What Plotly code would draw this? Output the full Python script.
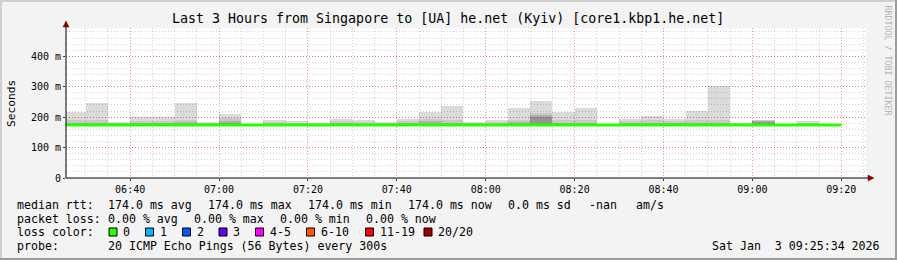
import pandas as pd
import plotly.graph_objects as go

# ---------------- data ----------------
bar_starts = pd.date_range("2026-01-03 06:25:00", periods=35, freq="5min")
bar_seconds = 300
range_start = "2026-01-03 06:25:34"
range_end = "2026-01-03 09:25:34"

median_ms = [174.0, 174.0, 174.0, 174.0, 174.0, 174.0, 174.0, 174.0, 174.0, 174.0,
             174.0, 174.0, 174.0, 174.0, 174.0, 174.0, 174.0, 174.0, 174.0, 174.0,
             174.0, 174.0, 174.0, 174.0, 174.0, 174.0, 174.0, 174.0, 174.0, 174.0,
             174.0, 174.0, 174.0, 174.0, 174.0]
smoke_min = [172, 172, 172, 172, 172, 172, 172, 172, 172, 172,
             172, 172, 172, 172, 172, 172, 172, 172, 172, 172,
             172, 172, 172, 172, 172, 172, 172, 172, 172, 172,
             172, 172, 172, 172, 172]
smoke_max = [218, 247, 185, 201, 201, 247, 185, 211, 177, 191,
             188, 182, 195, 191, 184, 194, 218, 238, 185, 192,
             231, 254, 218, 231, 175, 195, 205, 194, 220, 302,
             182, 190, 175, 188, 175]
smoke_mid = [190, 190, 180, 188, 186, 192, 180, 198, 176, 184,
             182, 179, 186, 184, 180, 186, 195, 192, 180, 183,
             190, 215, 190, 190, 175, 186, 190, 186, 190, 190,
             179, 189, 175, 182, 175]
smoke_inner = [182, 182, 177, 181, 180, 184, 177, 188, 175, 179,
               178, 177, 180, 179, 177, 181, 186, 182, 177, 179,
               184, 207, 182, 182, 174, 180, 181, 180, 182, 182,
               177, 188, 174, 178, 174]
smoke_core = [176, 176, 175, 176, 176, 177, 175, 181, 174, 176,
              175, 175, 176, 176, 175, 177, 179, 176, 175, 176,
              178, 201, 177, 177, 174, 176, 176, 176, 176, 176,
              175, 185, 174, 175, 174]

y_tickvals = [0, 100, 200, 300, 400]
y_ticktext = ["0", "100 m", "200 m", "300 m", "400 m"]
y_max = 493

title_text = "Last 3 Hours from Singapore to [UA] he.net (Kyiv) [core1.kbp1.he.net]"
rtt_stats = ["174.0 ms avg", "174.0 ms max", "174.0 ms min", "174.0 ms now",
             "0.0 ms sd", "-nan", "am/s"]
loss_stats = ["0.00 % avg", "0.00 % max", "0.00 % min", "0.00 % now"]
loss_labels = ["0", "1", "2", "3", "4-5", "6-10", "11-19", "20/20"]
loss_colors = ["#26ff00", "#00b8ff", "#0059ff", "#5e00ff", "#ff00ff",
               "#ff5500", "#ff0000", "#a10000"]
probe_text = "20 ICMP Echo Pings (56 Bytes) every 300s"
stamp_text = "Sat Jan  3 09:25:34 2026"

# ---------------- layout geometry ----------------
FIG_W, FIG_H = 897, 260
L, T, W, H = 66, 28, 800, 150
FONT = "DejaVu Sans Mono"


def px(x):
    return (x - L) / W


def py(y):
    return (T + H - y) / H


def nb(s):
    return s.replace(" ", "\u00a0")


centers = bar_starts + pd.Timedelta(seconds=bar_seconds / 2)
width_ms = bar_seconds * 1000

fig = go.Figure()

bands = [
    (smoke_max, "rgba(0,0,0,0.14)"),
    (smoke_mid, "rgba(0,0,0,0.08)"),
    (smoke_inner, "rgba(0,0,0,0.12)"),
    (smoke_core, "rgba(0,0,0,0.15)"),
]
for tops, col in bands:
    fig.add_trace(go.Bar(
        x=centers, y=[t - b for t, b in zip(tops, smoke_min)], base=smoke_min,
        width=width_ms, marker=dict(color=col, line=dict(width=0)),
        hoverinfo="skip", showlegend=False,
    ))

line_x = list(bar_starts) + [bar_starts[-1] + pd.Timedelta(seconds=bar_seconds)]
line_y = list(median_ms) + [median_ms[-1]]
fig.add_trace(go.Scatter(
    x=line_x, y=line_y, mode="lines", line=dict(color=loss_colors[0], width=3, shape="hv"),
    hoverinfo="skip", showlegend=False,
))

grid_minor = "rgba(120,120,120,0.33)"
grid_major = "rgba(235,0,0,0.42)"

fig.update_layout(
    width=FIG_W, height=FIG_H, autosize=False,
    margin=dict(l=L, r=FIG_W - L - W, t=T, b=FIG_H - T - H, pad=0),
    paper_bgcolor="#f3f3f3", plot_bgcolor="#ffffff",
    barmode="overlay", bargap=0, showlegend=False,
    xaxis=dict(
        type="date", range=[range_start, range_end],
        tick0="2026-01-03 06:40:00", dtick=20 * 60 * 1000, tickformat="%H:%M",
        showgrid=True, gridcolor=grid_major, griddash="1px,2px", gridwidth=1,
        minor=dict(dtick=5 * 60 * 1000, showgrid=True, gridcolor=grid_minor,
                   griddash="1px,2px", gridwidth=1),
        ticks="outside", ticklen=2, tickcolor="#333333",
        tickfont=dict(family=FONT, size=10, color="#000000"),
        showline=False, zeroline=False, fixedrange=True,
    ),
    yaxis=dict(
        range=[0, y_max], tickvals=y_tickvals, ticktext=y_ticktext,
        showgrid=True, gridcolor=grid_major, griddash="1px,2px", gridwidth=1,
        minor=dict(dtick=20, showgrid=True, gridcolor=grid_minor,
                   griddash="1px,2px", gridwidth=1),
        ticks="outside", ticklen=2, tickcolor="#333333",
        tickfont=dict(family=FONT, size=10, color="#000000"),
        showline=False, zeroline=False, fixedrange=True,
    ),
)

shapes = []
# frame (3D border)
shapes.append(dict(type="rect", xref="paper", yref="paper", x0=px(0), x1=px(FIG_W), y0=py(0), y1=py(2),
                   fillcolor="#cfcfcf", line=dict(width=0), layer="above"))
shapes.append(dict(type="rect", xref="paper", yref="paper", x0=px(0), x1=px(2), y0=py(0), y1=py(FIG_H),
                   fillcolor="#cfcfcf", line=dict(width=0), layer="above"))
shapes.append(dict(type="rect", xref="paper", yref="paper", x0=px(0), x1=px(FIG_W), y0=py(FIG_H - 2), y1=py(FIG_H),
                   fillcolor="#9c9c9c", line=dict(width=0), layer="above"))
shapes.append(dict(type="rect", xref="paper", yref="paper", x0=px(FIG_W - 2), x1=px(FIG_W), y0=py(0), y1=py(FIG_H),
                   fillcolor="#9c9c9c", line=dict(width=0), layer="above"))
# axis lines
shapes.append(dict(type="line", xref="paper", yref="paper", x0=px(L), x1=px(870), y0=0, y1=0,
                   line=dict(color="#000000", width=1), layer="above"))
shapes.append(dict(type="line", xref="paper", yref="paper", x0=0, x1=0, y0=0, y1=py(24),
                   line=dict(color="#000000", width=1), layer="above"))
# arrows
shapes.append(dict(type="path", xref="paper", yref="paper",
                   path=f"M {px(868)} {py(175)} L {px(874)} {py(178)} L {px(868)} {py(181)} Z",
                   fillcolor="#8b0000", line=dict(color="#8b0000", width=0.5), layer="above"))
shapes.append(dict(type="path", xref="paper", yref="paper",
                   path=f"M {px(63)} {py(27)} L {px(66)} {py(21)} L {px(69)} {py(27)} Z",
                   fillcolor="#8b0000", line=dict(color="#8b0000", width=0.5), layer="above"))

annotations = []


def text(x, y, s, size=11.6, anchor="left", color="#000000", angle=0):
    annotations.append(dict(
        x=px(x), y=py(y), xref="paper", yref="paper", text=nb(s), showarrow=False,
        xanchor=anchor, yanchor="middle", textangle=angle,
        font=dict(family=FONT, size=size, color=color), borderpad=0,
    ))


text(448, 19, title_text, size=13.3, anchor="center")
text(11, 103, "Seconds", size=11.2, anchor="center", angle=-90)
text(887.5, 60, "RRDTOOL / TOBI OETIKER", size=8.3, anchor="center", color="#b4b4b4", angle=90)

rtt_x = [107, 207, 307, 407, 506.5, 588, 635]
text(16, 204.5, "median rtt:")
for xx, s in zip(rtt_x, rtt_stats):
    text(xx, 204.5, s)

loss_x = [107, 193, 279, 365]
text(16, 218.5, "packet loss:")
for xx, s in zip(loss_x, loss_stats):
    text(xx, 218.5, s)

box_x = [109, 145.5, 182.5, 219, 255.5, 306.5, 365.5, 424]
text(16, 232, "loss color:")
for xx, lab, col in zip(box_x, loss_labels, loss_colors):
    shapes.append(dict(type="rect", xref="paper", yref="paper",
                       x0=px(xx), x1=px(xx + 8), y0=py(228), y1=py(236),
                       fillcolor=col, line=dict(color="#000000", width=1), layer="above"))
    text(xx + 13, 232, lab)

text(16, 246, "probe:")
text(107, 246, probe_text)
text(881, 246, stamp_text, anchor="right")

fig.update_layout(shapes=shapes, annotations=annotations)
fig.write_html("out.html")
